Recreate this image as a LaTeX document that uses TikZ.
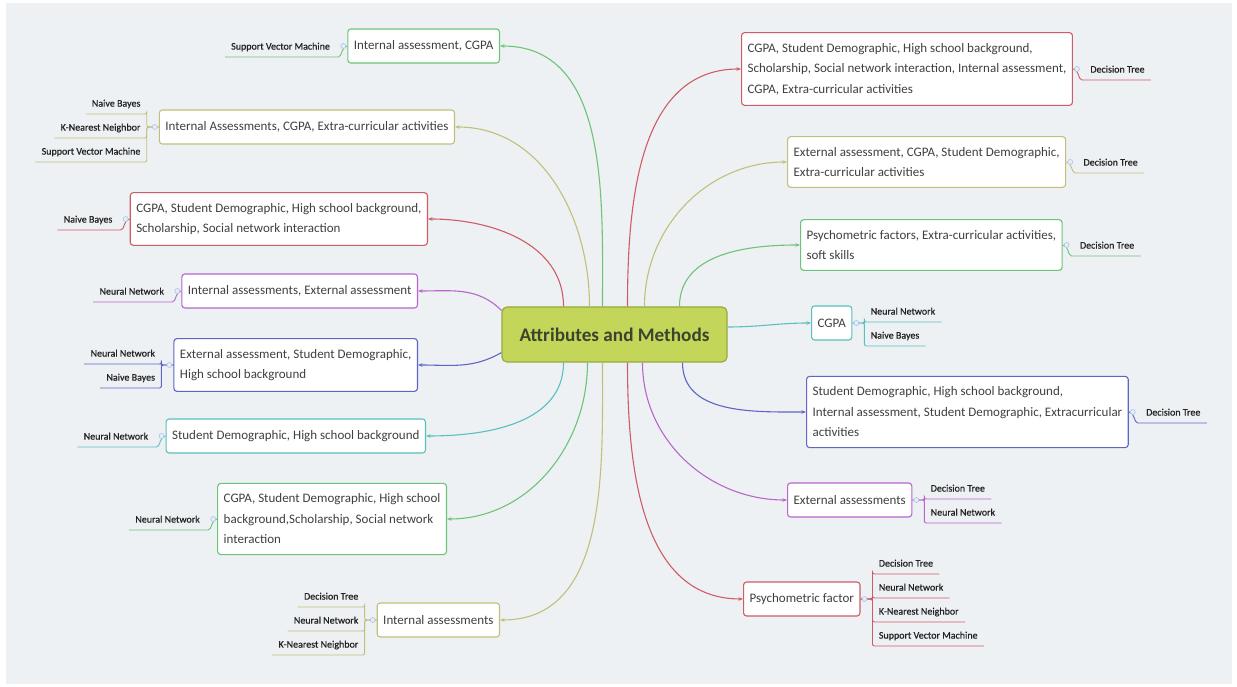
\documentclass[tikz,border=0pt]{standalone}
\usepackage{fontspec}
\setmainfont{Carlito}
\newfontfamily\methfam[FakeBold=0.6]{Carlito}
\usepackage{tikz}
\usetikzlibrary{arrows.meta,positioning}
\definecolor{cred}{RGB}{205,92,102}
\definecolor{colive}{RGB}{192,192,124}
\definecolor{cgreen}{RGB}{108,196,120}
\definecolor{cpurple}{RGB}{182,102,204}
\definecolor{cblue}{RGB}{96,100,196}
\definecolor{cteal}{RGB}{88,192,190}
\definecolor{rootfill}{RGB}{196,214,90}
\definecolor{rootdraw}{RGB}{150,170,62}
\definecolor{roottext}{RGB}{60,68,45}
\definecolor{bgfill}{RGB}{238,241,244}
\definecolor{boxtext}{RGB}{64,64,64}
\definecolor{methtext}{RGB}{35,35,35}
\definecolor{knobc}{RGB}{170,196,228}
\newcommand{\mapfont}{\fontsize{13}{20.5}\selectfont}
\newcommand{\methfont}{\methfam\fontsize{10}{11}\selectfont}
\newcommand{\rootfont}{\fontsize{19.2}{22}\selectfont\bfseries}
\tikzset{every picture/.style={line width=0.75pt}}
\tikzset{
  mapbox/.style={draw=#1, fill=white, rounded corners=3pt, line width=1.1pt, font=\mapfont,
    text=boxtext, align=left, inner xsep=6pt, inner ysep=10.5pt, minimum height=34pt},
  rootbox/.style={draw=rootdraw, fill=rootfill, rounded corners=5pt, line width=1.2pt,
    font=\rootfont, text=roottext, minimum width=225pt, minimum height=55pt},
  meth/.style={font=\methfont, text=methtext, inner xsep=6pt, inner ysep=4.5pt,
    text height=7pt, text depth=2.5pt},
  branch/.style={draw=#1, line width=1.1pt, -{Stealth[length=4.5pt,width=3.5pt]}},
  mline/.style={draw=#1, line width=0.9pt, rounded corners=2pt},
  knob/.style={draw=knobc, fill=knobc!30, line width=0.6pt},
}

\begin{document}
\begin{tikzpicture}[x=1pt,y=1pt]
\fill[white] (0,0) rectangle (1237,687);
\fill[bgfill] (6,3) rectangle (1232,684);
\useasboundingbox (0,0) rectangle (1237,687);
%
\node[rootbox] (root) at (614.5,352.5) {Attributes and Methods};
%
\node[mapbox=cgreen, anchor=east] (l1) at (500,641) {Internal assessment, CGPA};
\node[mapbox=colive, anchor=east] (l2) at (455,560) {Internal Assessments, CGPA, Extra-curricular activities};
\node[mapbox=cred, anchor=east] (l3) at (428,468) {CGPA, Student Demographic, High school background,\\Scholarship, Social network interaction};
\node[mapbox=cpurple, anchor=east] (l4) at (418,396) {Internal assessments, External assessment};
\node[mapbox=cblue, anchor=east] (l5) at (418,322) {External assessment, Student Demographic,\\High school background};
\node[mapbox=cteal, anchor=east] (l6) at (426,251) {Student Demographic, High school background};
\node[mapbox=cgreen, anchor=east] (l7) at (447,168) {CGPA, Student Demographic, High school\\background,Scholarship, Social network\\interaction};
\node[mapbox=colive, anchor=east] (l8) at (500,67) {Internal assessments};
%
\node[mapbox=cred, anchor=west] (r1) at (741,618) {CGPA, Student Demographic, High school background,\\Scholarship, Social network interaction, Internal assessment,\\CGPA, Extra-curricular activities};
\node[mapbox=colive, anchor=west] (r2) at (787,525) {External assessment, CGPA, Student Demographic,\\Extra-curricular activities};
\node[mapbox=cgreen, anchor=west] (r3) at (800,442) {Psychometric factors, Extra-curricular activities,\\soft skills};
\node[mapbox=cteal, anchor=west] (r4) at (811,364) {CGPA};
\node[mapbox=cblue, anchor=west] (r5) at (806,275) {Student Demographic, High school background,\\Internal assessment, Student Demographic, Extracurricular\\activities};
\node[mapbox=cpurple, anchor=west] (r6) at (787,187) {External assessments};
\node[mapbox=cred, anchor=west] (r7) at (743,88) {Psychometric factor};
%
% methods, left side
\node[meth, anchor=south east] (l1a) at ([xshift=-11pt,yshift=-11pt]l1.west) {Support Vector Machine};
\node[meth, anchor=south east] (l2a) at ([xshift=-12pt,yshift=13pt]l2.west) {Naive Bayes};
\node[meth, anchor=south east] (l2b) at ([xshift=-12pt,yshift=-11pt]l2.west) {K-Nearest Neighbor};
\node[meth, anchor=south east] (l2c) at ([xshift=-12pt,yshift=-35pt]l2.west) {Support Vector Machine};
\node[meth, anchor=south east] (l3a) at ([xshift=-11pt,yshift=-11pt]l3.west) {Naive Bayes};
\node[meth, anchor=south east] (l4a) at ([xshift=-11pt,yshift=-11pt]l4.west) {Neural Network};
\node[meth, anchor=south east] (l5a) at ([xshift=-12pt,yshift=1pt]l5.west) {Neural Network};
\node[meth, anchor=south east] (l5b) at ([xshift=-12pt,yshift=-23pt]l5.west) {Naive Bayes};
\node[meth, anchor=south east] (l6a) at ([xshift=-11pt,yshift=-11pt]l6.west) {Neural Network};
\node[meth, anchor=south east] (l7a) at ([xshift=-11pt,yshift=-11pt]l7.west) {Neural Network};
\node[meth, anchor=south east] (l8a) at ([xshift=-12pt,yshift=13pt]l8.west) {Decision Tree};
\node[meth, anchor=south east] (l8b) at ([xshift=-12pt,yshift=-11pt]l8.west) {Neural Network};
\node[meth, anchor=south east] (l8c) at ([xshift=-12pt,yshift=-35pt]l8.west) {K-Nearest Neighbor};
%
% methods, right side
\node[meth, anchor=south west] (r1a) at ([xshift=11pt,yshift=-11pt]r1.east) {Decision Tree};
\node[meth, anchor=south west] (r2a) at ([xshift=11pt,yshift=-11pt]r2.east) {Decision Tree};
\node[meth, anchor=south west] (r3a) at ([xshift=11pt,yshift=-11pt]r3.east) {Decision Tree};
\node[meth, anchor=south west] (r4a) at ([xshift=12pt,yshift=1pt]r4.east) {Neural Network};
\node[meth, anchor=south west] (r4b) at ([xshift=12pt,yshift=-23pt]r4.east) {Naive Bayes};
\node[meth, anchor=south west] (r5a) at ([xshift=11pt,yshift=-11pt]r5.east) {Decision Tree};
\node[meth, anchor=south west] (r6a) at ([xshift=12pt,yshift=1pt]r6.east) {Decision Tree};
\node[meth, anchor=south west] (r6b) at ([xshift=12pt,yshift=-23pt]r6.east) {Neural Network};
\node[meth, anchor=south west] (r7a) at ([xshift=12pt,yshift=25pt]r7.east) {Decision Tree};
\node[meth, anchor=south west] (r7b) at ([xshift=12pt,yshift=1pt]r7.east) {Neural Network};
\node[meth, anchor=south west] (r7c) at ([xshift=12pt,yshift=-23pt]r7.east) {K-Nearest Neighbor};
\node[meth, anchor=south west] (r7d) at ([xshift=12pt,yshift=-47pt]r7.east) {Support Vector Machine};
%
% branches from the root
\foreach \Dx/\Target/\Col in {-12/l1/cgreen, -25/l2/colive, -51/l3/cred}
\draw[branch=\Col] ([xshift=\Dx pt]root.north) to[out=90,in=0] (\Target.east);
\foreach \Dx/\Target/\Col in {-51/l6/cteal, -27/l7/cgreen, -12/l8/colive}
\draw[branch=\Col] ([xshift=\Dx pt]root.south) to[out=-90,in=0] (\Target.east);
\foreach \Dx/\Target/\Col in {13/r1/cred, 30/r2/colive, 65/r3/cgreen}
\draw[branch=\Col] ([xshift=\Dx pt]root.north) to[out=90,in=180] (\Target.west);
\foreach \Dx/\Target/\Col in {68/r5/cblue, 28/r6/cpurple, 13/r7/cred}
\draw[branch=\Col] ([xshift=\Dx pt]root.south) to[out=-90,in=180] (\Target.west);
\draw[branch=cpurple] ([yshift=-4pt]root.north west) to[out=135,in=0] (l4.east);
\draw[branch=cblue] ([yshift=10pt]root.south west) to[out=210,in=0] (l5.east);
\draw[branch=cteal] ([yshift=7.5pt]root.east) to[out=0,in=180] (r4.west);
%
% lines to the methods
\foreach \P/\M/\Col in {l1/l1a/cgreen, l3/l3a/cred, l4/l4a/cpurple, l6/l6a/cteal, l7/l7a/cgreen}
\draw[mline=\Col] (\P.west) to[out=180,in=0] (\M.south east) -- (\M.south west);
\foreach \P/\M/\Col in {l2/l2a/colive, l2/l2b/colive, l2/l2c/colive, l5/l5a/cblue, l5/l5b/cblue,
    l8/l8a/colive, l8/l8b/colive, l8/l8c/colive}
\draw[mline=\Col] (\P.west) -- ++(-12,0) |- (\M.south east) -- (\M.south west);
\foreach \P/\M/\Col in {r1/r1a/cred, r2/r2a/colive, r3/r3a/cgreen, r5/r5a/cblue}
\draw[mline=\Col] (\P.east) to[out=0,in=180] (\M.south west) -- (\M.south east);
\foreach \P/\M/\Col in {r4/r4a/cteal, r4/r4b/cteal, r6/r6a/cpurple, r6/r6b/cpurple,
    r7/r7a/cred, r7/r7b/cred, r7/r7c/cred, r7/r7d/cred}
\draw[mline=\Col] (\P.east) -- ++(12,0) |- (\M.south west) -- (\M.south east);
%
\foreach \N in {l1,l2,l3,l4,l5,l6,l7,l8}
\draw[knob] ([xshift=-4pt]\N.west) circle (2.5pt);
\foreach \N in {r1,r2,r3,r4,r5,r6,r7}
\draw[knob] ([xshift=4pt]\N.east) circle (2.5pt);
\end{tikzpicture}
\end{document}
